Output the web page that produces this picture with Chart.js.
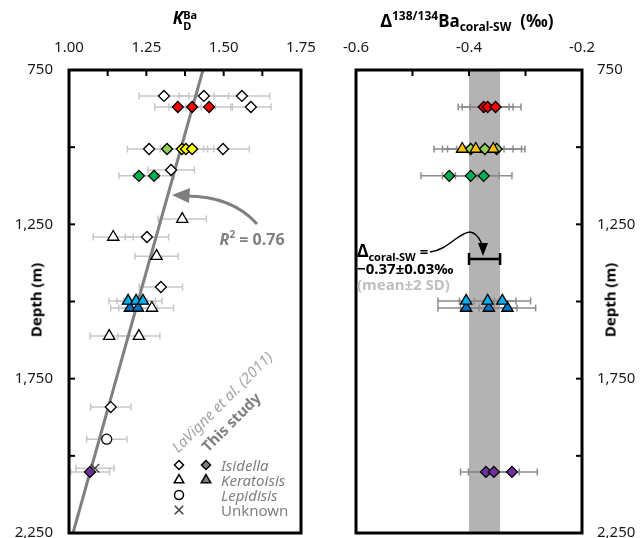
<!DOCTYPE html>
<html>
<head>
<meta charset="utf-8">
<script src="https://cdn.jsdelivr.net/npm/chart.js@4.4.0/dist/chart.umd.min.js"></script>
<style>
  html, body { margin: 0; padding: 0; background: #fff; }
  #wrap { position: relative; width: 642px; height: 538px; overflow: hidden; font-family: "Noto Sans", sans-serif; }
  canvas { position: absolute; top: 0; }
  .txt { position: absolute; white-space: nowrap; line-height: 1; transform: translate(-50%, -50%); }
  .ttl { position: absolute; white-space: nowrap; line-height: 1; text-align: center; font-weight: bold; font-size: 17px; }
  .lg { position: absolute; white-space: nowrap; line-height: 1; transform: translateY(-50%); font-size: 15px; color: #7f7f7f; }
</style>
</head>
<body>
<div id="wrap">
  <canvas id="kd" width="330" height="560" style="left:0"></canvas>
  <canvas id="dba" width="312" height="560" style="left:330px"></canvas>

  <div class="ttl" style="left:105px;width:160px;top:9px">
    <i>K</i><span style="display:inline-block;vertical-align:-6px;font-size:11px;line-height:11px;text-align:left"><span style="display:block">Ba</span><span style="display:block">D</span></span>
  </div>
  <div class="ttl" style="left:347px;width:240px;top:10px">
    &Delta;<sup style="font-size:12px">138/134</sup>Ba<sub style="font-size:12px">coral-SW</sub>&nbsp;&nbsp;(&permil;)
  </div>
  <div class="txt" style="left:36px;top:300px;font-weight:bold;font-size:15px;transform:translate(-50%,-50%) rotate(-90deg)">Depth (m)</div>
  <div class="txt" style="left:610px;top:300px;font-weight:bold;font-size:15px;transform:translate(-50%,-50%) rotate(-90deg)">Depth (m)</div>

  <div class="txt" style="left:252px;top:238px;font-weight:bold;font-size:16px;color:#7f7f7f"><i>R</i><sup style="font-size:10px">2</sup> = 0.76</div>

  <div class="txt" style="left:222px;top:402px;font-style:italic;font-size:15px;color:#a6a6a6;transform:translate(-50%,-50%) rotate(-45deg)">LaVigne et al. (2011)</div>
  <div class="txt" style="left:231px;top:422px;font-weight:bold;font-size:15px;color:#808080;transform:translate(-50%,-50%) rotate(-45deg)">This study</div>

  <div class="lg" style="left:221px;top:465px;font-style:italic">Isidella</div>
  <div class="lg" style="left:221px;top:480px;font-style:italic">Keratoisis</div>
  <div class="lg" style="left:221px;top:495px;font-style:italic">Lepidisis</div>
  <div class="lg" style="left:221px;top:510px">Unknown</div>

  <div class="lg" style="left:357px;top:252px;font-weight:bold;color:#000"><span style="font-size:17px">&Delta;</span><sub style="font-size:11px">coral-SW</sub>&nbsp;=</div>
  <div class="lg" style="left:357px;top:268px;font-weight:bold;color:#000">&minus;0.37&plusmn;0.03&permil;</div>
  <div class="lg" style="left:357px;top:284px;font-weight:bold;color:#bfbfbf">(mean&plusmn;2 SD)</div>
</div>

<script>
// ---- axes ----
const depthRange = [750, 2250];
const kdRange = [1.0, 1.75];
const dbaRange = [-0.6, -0.2];

// ---- K_D^Ba panel, LaVigne et al. (2011) ----
const lvIsidellaK = [1.307, 1.436, 1.559, 1.588, 1.259, 1.498, 1.330, 1.252, 1.297, 1.135];
const lvIsidellaDepth = [834, 834, 834, 870, 1006, 1006, 1074, 1291, 1453, 1842];
const lvIsidellaErr = [0.08, 0.08, 0.09, 0.065, 0.07, 0.085, 0.075, 0.07, 0.07, 0.065];

const lvKeratoisisK = [1.366, 1.143, 1.283, 1.268, 1.130, 1.226];
const lvKeratoisisDepth = [1233, 1291, 1353, 1521, 1612, 1612];
const lvKeratoisisErr = [0.078, 0.065, 0.07, 0.07, 0.062, 0.068];

const lvLepidisisK = [1.122];
const lvLepidisisDepth = [1946];
const lvLepidisisErr = [0.065];

const lvUnknownK = [1.084];
const lvUnknownDepth = [2040];
const lvUnknownErr = [0.062];

// ---- K_D^Ba panel, this study ----
const kdRed = [1.352, 1.398, 1.453];
const kdRedDepth = [870, 870, 870];
const kdLime = [1.317];
const kdLimeDepth = [1006];
const kdYellow = [1.365, 1.378, 1.398];
const kdYellowDepth = [1006, 1006, 1006];
const kdGreen = [1.226, 1.275];
const kdGreenDepth = [1093, 1093];
const kdLightBlue = [1.191, 1.217, 1.239];
const kdLightBlueDepth = [1498, 1498, 1498];
const kdDarkBlue = [1.197, 1.223];
const kdDarkBlueDepth = [1521, 1521];
const kdPurple = [1.068];
const kdPurpleDepth = [2052];

// regression line (R^2 = 0.76)
const fitK = [1.433, 1.013];
const fitDepth = [750, 2250];

// ---- Delta 138/134 Ba panel ----
const dRed = [-0.374, -0.367, -0.353];
const dRedDepth = [870, 870, 870];
const dRedErr = [0.045, 0.045, 0.045];
const dGold = [-0.412, -0.388, -0.357];
const dGoldDepth = [1006, 1006, 1006];
const dLime = [-0.397, -0.372, -0.351];
const dLimeDepth = [1006, 1006, 1006];
const dGreen = [-0.435, -0.397, -0.374];
const dGreenDepth = [1093, 1093, 1093];
const dLightBlue = [-0.405, -0.367, -0.341];
const dLightBlueDepth = [1498, 1498, 1498];
const dDarkBlue = [-0.405, -0.365, -0.332];
const dDarkBlueDepth = [1521, 1521, 1521];
const dPurple = [-0.370, -0.356, -0.324];
const dPurpleDepth = [2052, 2052, 2052];

// mean +/- 2 SD band and bracket
const meanBand = [-0.40, -0.345];
const bracketDepth = 1362;

Chart.defaults.font.family = "'Noto Sans', sans-serif";
Chart.defaults.font.size = 15;
Chart.defaults.color = '#1a1a1a';

function same(arr, v) { return arr.map(() => v); }

function series(label, xs, ys, errs, style, fill, radius) {
  return {
    label,
    data: xs.map((v, i) => ({ x: v, y: ys[i] })),
    xErr: errs,
    pointStyle: style,
    pointBackgroundColor: fill,
    pointBorderColor: '#000',
    pointBorderWidth: 1.3,
    pointRadius: radius,
    showLine: false,
    order: 1
  };
}

const errorBars = {
  id: 'errorBars',
  beforeDatasetsDraw(chart, args, opts) {
    const { ctx, chartArea: a, scales: { x, y } } = chart;
    ctx.save();
    ctx.beginPath();
    ctx.rect(a.left, a.top, a.width, a.height);
    ctx.clip();
    ctx.strokeStyle = opts.color;
    ctx.lineWidth = 1.5;
    chart.data.datasets.forEach(ds => {
      if (!ds.xErr) return;
      ds.data.forEach((p, j) => {
        const e = ds.xErr[j];
        const x0 = x.getPixelForValue(p.x - e);
        const x1 = x.getPixelForValue(p.x + e);
        const py = y.getPixelForValue(p.y);
        ctx.beginPath();
        ctx.moveTo(x0, py); ctx.lineTo(x1, py);
        ctx.moveTo(x0, py - 3.5); ctx.lineTo(x0, py + 3.5);
        ctx.moveTo(x1, py - 3.5); ctx.lineTo(x1, py + 3.5);
        ctx.stroke();
      });
    });
    ctx.restore();
  }
};

// black frame with inward ticks
const frame = {
  id: 'frame',
  afterDatasetsDraw(chart, args, opts) {
    const { ctx, chartArea: a, scales: { x, y } } = chart;
    ctx.save();
    ctx.strokeStyle = '#000';
    ctx.lineWidth = 2;
    x.ticks.forEach(t => {
      const px = x.getPixelForValue(t.value);
      ctx.beginPath(); ctx.moveTo(px, a.top); ctx.lineTo(px, a.top + 6); ctx.stroke();
    });
    y.ticks.forEach(t => {
      const py = y.getPixelForValue(t.value);
      const ex = opts.side === 'right' ? a.right : a.left;
      const dir = opts.side === 'right' ? -1 : 1;
      ctx.beginPath(); ctx.moveTo(ex, py); ctx.lineTo(ex + dir * 6, py); ctx.stroke();
    });
    ctx.lineWidth = 3;
    ctx.strokeRect(a.left, a.top, a.width, a.height);
    ctx.restore();
  }
};

const legendMarks = {
  id: 'legendMarks',
  afterDatasetsDraw(chart) {
    const ctx = chart.ctx;
    const marks = [
      ['rectRot', '#fff', 179, 465, 4.5], ['rectRot', '#808080', 206, 465, 4.5],
      ['triangle', '#fff', 179, 480, 5.5], ['triangle', '#808080', 206, 480, 5.5],
      ['circle', '#fff', 179, 495, 4.5], ['crossRot', '#fff', 179, 510, 6]
    ];
    ctx.save();
    marks.forEach(([style, fill, px, py, r]) => {
      ctx.fillStyle = fill;
      ctx.strokeStyle = style === 'crossRot' ? '#404040' : '#000';
      ctx.lineWidth = 1.5;
      Chart.helpers.drawPoint(ctx, { pointStyle: style, radius: r, rotation: 0, borderWidth: 1.5 }, px, py);
    });

    // R^2 arrow
    ctx.strokeStyle = '#7f7f7f';
    ctx.fillStyle = '#7f7f7f';
    ctx.lineWidth = 3;
    ctx.beginPath();
    ctx.moveTo(257, 224);
    ctx.quadraticCurveTo(232, 196, 186, 196);
    ctx.stroke();
    ctx.beginPath();
    ctx.moveTo(172, 195);
    ctx.lineTo(190, 188);
    ctx.lineTo(189, 203);
    ctx.closePath();
    ctx.fill();
    ctx.restore();
  }
};

const band = {
  id: 'band',
  beforeDatasetsDraw(chart) {
    const { ctx, chartArea: a, scales: { x, y } } = chart;
    const x0 = x.getPixelForValue(meanBand[0]);
    const x1 = x.getPixelForValue(meanBand[1]);
    ctx.save();
    ctx.fillStyle = '#b3b3b3';
    ctx.fillRect(x0, a.top, x1 - x0, a.height);
    ctx.restore();
  },
  afterDatasetsDraw(chart) {
    const { ctx, scales: { x, y } } = chart;
    const x0 = x.getPixelForValue(meanBand[0]);
    const x1 = x.getPixelForValue(meanBand[1]);
    const py = y.getPixelForValue(bracketDepth);
    ctx.save();
    ctx.strokeStyle = '#000';
    ctx.lineWidth = 2.5;
    ctx.beginPath();
    ctx.moveTo(x0, py); ctx.lineTo(x1, py);
    ctx.moveTo(x0, py - 6); ctx.lineTo(x0, py + 6);
    ctx.moveTo(x1, py - 6); ctx.lineTo(x1, py + 6);
    ctx.stroke();
    // annotation arrow
    ctx.lineWidth = 1.5;
    ctx.beginPath();
    ctx.moveTo(430 - 330, 252);
    ctx.bezierCurveTo(454 - 330, 250, 468 - 330, 214, 482 - 330, 244);
    ctx.stroke();
    ctx.fillStyle = '#000';
    ctx.beginPath();
    ctx.moveTo(483 - 330, 256);
    ctx.lineTo(478 - 330, 243);
    ctx.lineTo(488 - 330, 243);
    ctx.closePath();
    ctx.fill();
    ctx.restore();
  }
};

function depthAxis(pos, width, pad) {
  return {
    type: 'linear',
    position: pos,
    reverse: true,
    min: depthRange[0],
    max: depthRange[1],
    grid: { display: false, drawTicks: false },
    border: { display: false },
    ticks: {
      stepSize: 250,
      padding: pad,
      callback: v => ((v - 750) % 500 === 0 ? v.toLocaleString('en-US') : '')
    },
    afterFit: s => { s.width = width; }
  };
}

new Chart(document.getElementById('kd'), {
  type: 'scatter',
  data: {
    datasets: [
      series('Isidella (LaVigne)', lvIsidellaK, lvIsidellaDepth, lvIsidellaErr, 'rectRot', '#fff', 5.5),
      series('Keratoisis (LaVigne)', lvKeratoisisK, lvKeratoisisDepth, lvKeratoisisErr, 'triangle', '#fff', 6.5),
      series('Lepidisis (LaVigne)', lvLepidisisK, lvLepidisisDepth, lvLepidisisErr, 'circle', '#fff', 5),
      Object.assign(series('Unknown (LaVigne)', lvUnknownK, lvUnknownDepth, lvUnknownErr, 'crossRot', '#fff', 6), { pointBorderColor: '#404040' }),
      series('red', kdRed, kdRedDepth, same(kdRed, 0.075), 'rectRot', '#ff0000', 5.5),
      series('lime', kdLime, kdLimeDepth, same(kdLime, 0.07), 'rectRot', '#92d050', 5.5),
      series('yellow', kdYellow, kdYellowDepth, same(kdYellow, 0.07), 'rectRot', '#ffff00', 5.5),
      series('green', kdGreen, kdGreenDepth, same(kdGreen, 0.065), 'rectRot', '#00b050', 5.5),
      series('light blue', kdLightBlue, kdLightBlueDepth, same(kdLightBlue, 0.062), 'triangle', '#00b0f0', 6.5),
      series('dark blue', kdDarkBlue, kdDarkBlueDepth, same(kdDarkBlue, 0.062), 'triangle', '#0070c0', 6.5),
      series('purple', kdPurple, kdPurpleDepth, same(kdPurple, 0.063), 'rectRot', '#7030a0', 5.5),
      {
        label: 'fit',
        data: fitK.map((v, i) => ({ x: v, y: fitDepth[i] })),
        showLine: true,
        borderColor: '#808080',
        borderWidth: 3,
        pointRadius: 0,
        order: 5
      }
    ]
  },
  options: {
    responsive: false,
    animation: false,
    layout: { padding: { left: 0, right: 29, top: 0, bottom: 27 } },
    plugins: {
      legend: { display: false },
      tooltip: { enabled: false },
      errorBars: { color: '#c8c8c8' },
      frame: { side: 'left' }
    },
    scales: {
      x: {
        type: 'linear',
        position: 'top',
        min: kdRange[0],
        max: kdRange[1],
        grid: { display: false, drawTicks: false },
        border: { display: false },
        ticks: {
          stepSize: 0.125,
          padding: 13,
          maxRotation: 0,
          callback: v => (Math.round(v * 1000) % 250 === 0 ? v.toFixed(2) : '')
        },
        afterFit: s => { s.height = 70; }
      },
      y: depthAxis('left', 69, 16)
    }
  },
  plugins: [errorBars, frame, legendMarks]
});

new Chart(document.getElementById('dba'), {
  type: 'scatter',
  data: {
    datasets: [
      series('red', dRed, dRedDepth, dRedErr, 'rectRot', '#ff0000', 5.5),
      series('gold', dGold, dGoldDepth, same(dGold, 0.05), 'triangle', '#ffc000', 6.5),
      series('lime', dLime, dLimeDepth, same(dLime, 0.05), 'rectRot', '#92d050', 5.5),
      series('green', dGreen, dGreenDepth, same(dGreen, 0.05), 'rectRot', '#00b050', 5.5),
      series('light blue', dLightBlue, dLightBlueDepth, same(dLightBlue, 0.05), 'triangle', '#00b0f0', 6.5),
      series('dark blue', dDarkBlue, dDarkBlueDepth, same(dDarkBlue, 0.05), 'triangle', '#0070c0', 6.5),
      series('purple', dPurple, dPurpleDepth, same(dPurple, 0.045), 'rectRot', '#7030a0', 5.5)
    ]
  },
  options: {
    responsive: false,
    animation: false,
    layout: { padding: { left: 22, right: 0, top: 0, bottom: 27 } },
    plugins: {
      legend: { display: false },
      tooltip: { enabled: false },
      errorBars: { color: '#8c8c8c' },
      frame: { side: 'right' }
    },
    scales: {
      x: {
        type: 'linear',
        position: 'top',
        min: dbaRange[0],
        max: dbaRange[1],
        grid: { display: false, drawTicks: false },
        border: { display: false },
        ticks: {
          stepSize: 0.1,
          padding: 13,
          maxRotation: 0,
          callback: v => (Math.round(v * 10) % 2 === 0 ? v.toFixed(1) : '')
        },
        afterFit: s => { s.height = 70; }
      },
      y: depthAxis('right', 60, 15)
    }
  },
  plugins: [band, errorBars, frame]
});
</script>
</body>
</html>
